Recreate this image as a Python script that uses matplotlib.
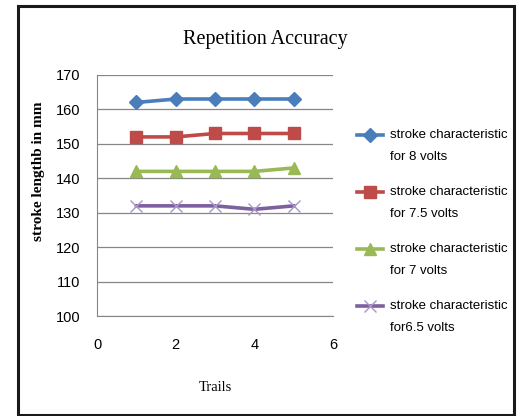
import numpy as np
import matplotlib.pyplot as plt
from matplotlib.patches import Rectangle

trails = [1, 2, 3, 4, 5]
volts_8 = [162, 163, 163, 163, 163]
volts_7_5 = [152, 152, 153, 153, 153]
volts_7 = [142, 142, 142, 142, 143]
volts_6_5 = [132, 132, 132, 131, 132]
labels = ['stroke characteristic\nfor 8 volts',
          'stroke characteristic\nfor 7.5 volts',
          'stroke characteristic\nfor 7 volts',
          'stroke characteristic\nfor6.5 volts']

sans = ['Liberation Sans', 'DejaVu Sans']
serif = ['Liberation Serif', 'DejaVu Serif']

fig = plt.figure(figsize=(5.22, 4.16), dpi=100)
ax = fig.add_axes([0.186, 0.240, 0.452, 0.580])

ax.plot(trails, volts_8, color='#4A7EBB', lw=2.6, marker='D', ms=7.5, label=labels[0])
ax.plot(trails, volts_7_5, color='#BE4B48', lw=2.6, marker='s', ms=8.5, label=labels[1])
ax.plot(trails, volts_7, color='#98B954', lw=2.6, marker='^', ms=8.5, label=labels[2])
ax.plot(trails, volts_6_5, color='#7D60A0', lw=2.6, marker='x', ms=8,
        mec='#A896C8', mew=1.0, label=labels[3])

ax.set_xlim(0, 6)
ax.set_ylim(100, 170)
ax.set_xticks([0, 2, 4, 6])
ax.set_yticks(range(100, 171, 10))
ax.grid(axis='y', color='#868686', lw=0.9)
ax.set_axisbelow(True)
for s in ['top', 'right']:
    ax.spines[s].set_visible(False)
for s in ['left', 'bottom']:
    ax.spines[s].set_color('#868686')
ax.tick_params(length=0, labelsize=10.5)
ax.tick_params(axis='x', pad=16)
ax.tick_params(axis='y', pad=12)
for t in ax.get_xticklabels() + ax.get_yticklabels():
    t.set_family(sans)

ax.set_xlabel('Trails', family=serif, fontsize=10.5)
ax.xaxis.set_label_coords(0.5, -0.27)
ax.set_ylabel('stroke lengthb in mm', family=serif, fontsize=11, fontweight='bold')
ax.yaxis.set_label_coords(-0.22, 0.60)
fig.text(0.508, 0.905, 'Repetition Accuracy', family=serif, fontsize=14.5,
         ha='center', va='center')

leg = ax.legend(loc='center left', bbox_to_anchor=(1.10, 0.35), frameon=False,
                prop={'family': sans, 'size': 9.5}, handlelength=2.0,
                handletextpad=0.5, labelspacing=1.75, borderaxespad=0, borderpad=0)
for t in leg.get_texts():
    t.set_linespacing(2.1)
# lift each legend key up to the first line of its label
for h in leg.legend_handles:
    h.set_ydata(np.asarray(h.get_ydata()) + 8.3)

# outer chart frame
fig.patches.append(Rectangle((0.034, 0.003), 0.951, 0.983, transform=fig.transFigure,
                             fill=False, ec='#1a1a1a', lw=2.2))

fig.savefig('out.png', dpi=100)
